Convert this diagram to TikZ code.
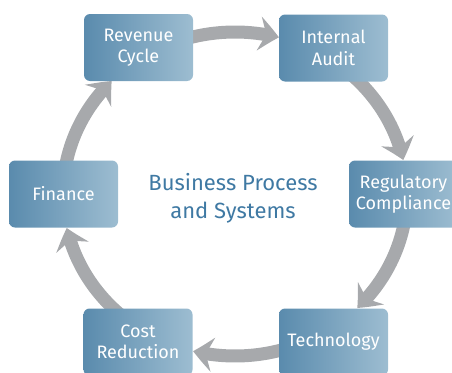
\documentclass[tikz,border=0pt]{standalone}
\usepackage{fontspec}
\setmainfont{Fira Sans}
\usetikzlibrary{arrows.meta,calc,bending}
\definecolor{ringgray}{HTML}{A7A9AC}
\definecolor{boxdark}{HTML}{5A8BAD}
\definecolor{boxlight}{HTML}{9DBDD1}
\definecolor{titleblue}{HTML}{3F79A3}
\tikzset{
  stagebox/.style={rectangle, rounded corners=6pt, left color=boxdark, right color=boxlight,
    minimum width=109pt, minimum height=67pt, inner sep=0pt, align=center, text=white,
    font=\fontsize{18}{21.5}\selectfont},
  ring/.style={draw=ringgray, line width=13pt,
    -{Stealth[length=20pt,width=34pt,inset=7pt,bend]}},
}
\begin{document}
\begin{tikzpicture}[x=1pt,y=1pt]
\clip (0,0) rectangle (452,-372);
\useasboundingbox (0,0) rectangle (452,-372);
\coordinate (C) at (235,-194);
\coordinate (s1) at ($(C)+(110:172 and 162)$);
\coordinate (s2) at ($(C)+(50:172 and 162)$);
\coordinate (s3) at ($(C)+(-5:172 and 162)$);
\coordinate (s4) at ($(C)+(-70:172 and 162)$);
\coordinate (s5) at ($(C)+(-130:172 and 162)$);
\coordinate (s6) at ($(C)+(175:172 and 162)$);
\draw[ring] (s1) arc[start angle=110,end angle=75.2,x radius=172,y radius=162];
\draw[ring] (s2) arc[start angle=50,end angle=12.1,x radius=172,y radius=162];
\draw[ring] (s3) arc[start angle=-5,end angle=-44.7,x radius=172,y radius=162];
\draw[ring] (s4) arc[start angle=-70,end angle=-104.1,x radius=172,y radius=162];
\draw[ring] (s5) arc[start angle=-130,end angle=-167.9,x radius=172,y radius=162];
\draw[ring] (s6) arc[start angle=175,end angle=135.8,x radius=172,y radius=162];
\node[stagebox] (rc) at (138.5,-47.5) {Revenue\\Cycle};
\node[stagebox] (ia) at (333.5,-48) {Internal\\Audit};
\node[stagebox] (reg) at (403.5,-194) {Regulatory\\Compliance};
\node[stagebox] (tech) at (333.5,-342) {Technology};
\node[stagebox] (cr) at (138,-342) {Cost\\Reduction};
\node[stagebox] (fin) at (63.5,-194) {Finance};
\node[align=center, text=titleblue, font=\fontsize{22}{28}\selectfont] (title) at (233,-198) {Business Process\\and Systems};
\end{tikzpicture}
\end{document}
